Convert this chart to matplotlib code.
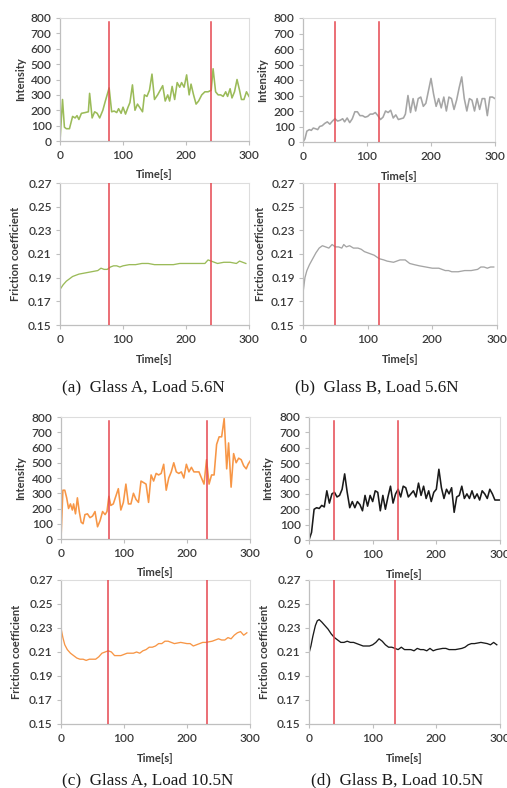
import matplotlib
matplotlib.use("Agg")
import matplotlib.pyplot as plt

# ---------------- data ----------------
# (a) Glass A, Load 5.6N
a_int_t = [0, 4, 7, 10, 15, 20, 24, 27, 30, 34, 40, 45, 47, 51, 55, 59, 63, 68, 72, 78, 82, 86, 90, 93, 97,
           100, 104, 108, 111, 115, 119, 123, 127, 131, 134, 138, 142, 146, 150, 155, 159, 163, 167, 171, 174,
           178, 182, 186, 190, 193, 197, 201, 205, 208, 212, 216, 220, 225, 230, 235, 240, 243, 247, 251, 255,
           259, 263, 266, 270, 273, 277, 281, 285, 288, 292, 296, 300]
a_int_v = [0, 270, 90, 80, 80, 160, 150, 165, 140, 180, 185, 190, 310, 150, 190, 180, 150, 200, 260, 345, 190, 195,
           185, 210, 180, 220, 175, 220, 250, 365, 200, 240, 215, 190, 300, 290, 330, 435, 270, 300, 330, 360,
           260, 300, 260, 355, 270, 380, 350, 380, 350, 430, 300, 370, 300, 240, 260, 300, 320, 320, 330, 470,
           320, 300, 300, 290, 320, 290, 340, 280, 320, 400, 330, 270, 270, 320, 290]
a_fr_t = [0, 5, 10, 15, 20, 30, 40, 50, 60, 65, 70, 75, 80, 85, 90, 95, 100, 110, 120, 130, 140, 150, 160, 170,
          180, 190, 200, 210, 220, 230, 235, 240, 250, 260, 270, 280, 285, 290, 295]
a_fr_v = [0.180, 0.184, 0.187, 0.189, 0.191, 0.193, 0.194, 0.195, 0.196, 0.198, 0.197, 0.197, 0.199, 0.200,
          0.200, 0.199, 0.200, 0.201, 0.201, 0.202, 0.202, 0.201, 0.201, 0.201, 0.201, 0.202, 0.202, 0.202,
          0.202, 0.202, 0.205, 0.204, 0.202, 0.203, 0.203, 0.202, 0.204, 0.203, 0.202]
a_marks = [78, 240]

# (b) Glass B, Load 5.6N
b_int_t = [0, 3, 6, 10, 13, 16, 20, 23, 26, 30, 34, 38, 42, 46, 50, 54, 58, 62, 65, 69, 73, 77, 81, 85, 89, 93,
           97, 101, 105, 109, 113, 117, 121, 125, 129, 133, 137, 141, 145, 149, 153, 157, 160, 164, 168, 172,
           176, 180, 184, 188, 192, 196, 200, 204, 208, 212, 216, 220, 224, 228, 232, 236, 240, 244, 248, 252,
           256, 260, 264, 268, 272, 276, 280, 284, 288, 292, 296, 300]
b_int_v = [0, 20, 70, 80, 75, 90, 85, 80, 100, 105, 120, 130, 115, 135, 150, 135, 140, 150, 130, 155, 125, 150,
           195, 195, 170, 170, 160, 165, 180, 180, 190, 170, 145, 160, 200, 190, 205, 155, 175, 145, 150, 155,
           180, 300, 190, 280, 200, 280, 290, 230, 250, 330, 410, 310, 230, 280, 220, 290, 200, 290, 280, 210,
           270, 350, 420, 280, 200, 280, 270, 200, 280, 210, 280, 280, 170, 290, 290, 280]
b_fr_t = [0, 3, 6, 10, 15, 20, 25, 30, 35, 40, 45, 50, 55, 60, 63, 67, 72, 78, 85, 90, 95, 100, 110, 118, 125,
          130, 140, 145, 150, 158, 165, 172, 180, 190, 200, 210, 220, 225, 230, 240, 250, 260, 270, 275, 280,
          285, 290, 295]
b_fr_v = [0.177, 0.190, 0.196, 0.201, 0.206, 0.211, 0.215, 0.217, 0.216, 0.215, 0.218, 0.216, 0.216, 0.215,
          0.218, 0.216, 0.217, 0.215, 0.215, 0.214, 0.212, 0.211, 0.209, 0.206, 0.205, 0.204, 0.203, 0.204,
          0.205, 0.205, 0.202, 0.201, 0.200, 0.199, 0.198, 0.198, 0.196, 0.196, 0.195, 0.195, 0.196, 0.196,
          0.197, 0.199, 0.199, 0.198, 0.199, 0.199]
b_marks = [50, 118]

# (c) Glass A, Load 10.5N
c_int_t = [0, 3, 6, 9, 12, 15, 18, 20, 23, 26, 29, 32, 35, 38, 42, 46, 50, 54, 58, 62, 66, 70, 73, 76, 79, 83,
           87, 91, 95, 99, 103, 107, 111, 115, 119, 123, 127, 131, 135, 139, 143, 147, 151, 155, 159, 163, 167,
           171, 175, 179, 183, 187, 191, 195, 199, 203, 207, 211, 215, 219, 223, 227, 231, 235, 239, 243, 247,
           251, 255, 259, 263, 266, 270, 274, 278, 282, 286, 290, 294, 297, 300]
c_int_v = [0, 320, 320, 270, 200, 230, 190, 230, 165, 270, 180, 110, 100, 160, 165, 140, 150, 180, 80, 120, 180,
           160, 180, 280, 220, 230, 280, 330, 190, 240, 360, 230, 230, 300, 260, 240, 380, 370, 360, 240, 420,
           380, 430, 420, 430, 490, 320, 400, 440, 500, 440, 430, 440, 400, 490, 440, 470, 440, 440, 440, 400,
           360, 520, 360, 420, 420, 620, 670, 670, 790, 460, 630, 340, 560, 500, 530, 520, 480, 460, 490, 510]
c_fr_t = [0, 3, 6, 10, 15, 20, 25, 30, 35, 40, 45, 50, 55, 60, 65, 70, 75, 80, 85, 90, 95, 100, 105, 110, 115,
          120, 125, 130, 135, 140, 145, 150, 155, 160, 165, 170, 175, 180, 190, 200, 205, 210, 215, 220, 225,
          230, 240, 245, 250, 255, 260, 265, 270, 275, 280, 285, 290, 295]
c_fr_v = [0.230, 0.222, 0.216, 0.212, 0.209, 0.207, 0.205, 0.204, 0.204, 0.203, 0.204, 0.204, 0.204, 0.206,
          0.209, 0.210, 0.211, 0.210, 0.207, 0.207, 0.207, 0.208, 0.209, 0.209, 0.209, 0.210, 0.209, 0.211,
          0.212, 0.214, 0.214, 0.215, 0.217, 0.217, 0.219, 0.219, 0.218, 0.217, 0.218, 0.217, 0.217, 0.215,
          0.216, 0.217, 0.218, 0.218, 0.219, 0.220, 0.221, 0.220, 0.220, 0.222, 0.221, 0.224, 0.226, 0.227,
          0.224, 0.226]
c_marks_int = [76, 232]
c_marks_fr = [75, 231]

# (d) Glass B, Load 10.5N
d_int_t = [0, 4, 8, 12, 16, 20, 24, 28, 32, 36, 40, 44, 48, 52, 56, 60, 64, 68, 72, 76, 80, 84, 88, 92, 96, 100,
           104, 108, 112, 116, 120, 124, 128, 132, 136, 140, 144, 148, 152, 156, 160, 164, 168, 172, 176, 180,
           184, 188, 192, 196, 200, 204, 208, 212, 216, 220, 224, 228, 232, 236, 240, 244, 248, 252, 256, 260,
           264, 268, 272, 276, 280, 284, 288, 292, 296, 300]
d_int_v = [0, 50, 200, 210, 205, 225, 215, 320, 240, 300, 310, 280, 290, 330, 430, 310, 210, 250, 210, 250, 230,
           190, 290, 220, 290, 250, 320, 310, 190, 290, 200, 280, 350, 240, 300, 330, 280, 350, 340, 280, 300,
           320, 280, 370, 290, 350, 270, 320, 250, 310, 330, 460, 340, 270, 330, 300, 340, 180, 280, 290, 350,
           270, 300, 270, 320, 270, 300, 260, 320, 300, 270, 330, 300, 260, 260, 260]
d_fr_t = [0, 3, 6, 10, 13, 16, 20, 25, 30, 35, 40, 45, 50, 55, 60, 65, 70, 75, 80, 85, 90, 95, 100, 105, 110,
          115, 120, 125, 130, 135, 140, 145, 150, 160, 165, 170, 175, 180, 185, 190, 195, 200, 210, 215, 220,
          230, 240, 245, 250, 255, 260, 270, 280, 285, 290, 295]
d_fr_v = [0.209, 0.215, 0.223, 0.232, 0.236, 0.237, 0.235, 0.232, 0.229, 0.225, 0.222, 0.220, 0.218, 0.218,
          0.219, 0.218, 0.218, 0.217, 0.216, 0.215, 0.215, 0.215, 0.216, 0.218, 0.221, 0.219, 0.216, 0.214,
          0.214, 0.213, 0.212, 0.214, 0.212, 0.212, 0.211, 0.213, 0.212, 0.212, 0.211, 0.213, 0.211, 0.212,
          0.213, 0.213, 0.212, 0.212, 0.213, 0.214, 0.216, 0.217, 0.217, 0.218, 0.217, 0.216, 0.218, 0.216]
d_marks_int = [40, 140]
d_marks_fr = [40, 135]

captions = ["(a)  Glass A, Load 5.6N", "(b)  Glass B, Load 5.6N",
            "(c)  Glass A, Load 10.5N", "(d)  Glass B, Load 10.5N"]

int_ticks = [0, 100, 200, 300, 400, 500, 600, 700, 800]
fr_ticks = [0.15, 0.17, 0.19, 0.21, 0.23, 0.25, 0.27]
x_ticks = [0, 100, 200, 300]

# ---------------- figure ----------------
W, H = 507, 788
fig = plt.figure(figsize=(W / 100, H / 100), dpi=100)
fig.patch.set_facecolor("white")

TICK_FONT = dict(family=["Lato", "DejaVu Sans"], size=8.6, weight="semibold")
LABEL_FONT = dict(family=["Lato", "DejaVu Sans"], size=8.0, weight="bold")
TXT = "#3a3a3a"
RED = "#E5474F"


def make_ax(left, right, top, bottom):
    return fig.add_axes([left / W, 1 - bottom / H, (right - left) / W, (bottom - top) / H])


def style(ax, yticks, ylabel, fmt, ylab_px):
    ax.set_xlim(0, 300)
    ax.set_ylim(yticks[0], yticks[-1])
    ax.set_xticks(x_ticks)
    ax.set_yticks(yticks)
    ax.set_yticklabels([fmt.format(v) for v in yticks], **TICK_FONT, color=TXT)
    ax.set_xticklabels([str(v) for v in x_ticks], **TICK_FONT, color=TXT)
    ax.tick_params(axis="both", direction="out", length=3, width=0.8, color="#BFBFBF")
    ax.tick_params(axis="x", pad=3.5)
    ax.tick_params(axis="y", pad=3.0)
    for s in ["left", "bottom"]:
        ax.spines[s].set_color("#BFBFBF")
        ax.spines[s].set_linewidth(0.9)
    for s in ["top", "right"]:
        ax.spines[s].set_color("#DDDDDD")
        ax.spines[s].set_linewidth(0.8)
    ax.set_ylabel(ylabel, **LABEL_FONT, color=TXT)
    ax.set_xlabel("Time[s]", **LABEL_FONT, color=TXT)
    bb = ax.get_position()
    wpx = bb.width * W
    hpx = bb.height * H
    ax.yaxis.set_label_coords(-ylab_px / wpx, 0.5)
    ax.xaxis.set_label_coords(0.5, -34 / hpx)
    ax.xaxis.label.set_va("center")
    ax.yaxis.label.set_va("center")


panels = [
    dict(ri=(60, 249, 18, 141), rf=(60, 249, 183, 325), it=a_int_t, iv=a_int_v, ft=a_fr_t, fv=a_fr_v,
         mi=a_marks, mf=a_marks, c="#9BBB59", ylp_i=39, ylp_f=44, cap=(143, 387), cap_txt=captions[0]),
    dict(ri=(303, 495, 18, 142), rf=(303, 497, 183, 325), it=b_int_t, iv=b_int_v, ft=b_fr_t, fv=b_fr_v,
         mi=b_marks, mf=b_marks, c="#A5A5A5", ylp_i=40, ylp_f=43, cap=(377, 387), cap_txt=captions[1]),
    dict(ri=(61, 250, 417, 539), rf=(61, 250, 580, 724), it=c_int_t, iv=c_int_v, ft=c_fr_t, fv=c_fr_v,
         mi=c_marks_int, mf=c_marks_fr, c="#F79646", ylp_i=40, ylp_f=44, cap=(148, 780), cap_txt=captions[2]),
    dict(ri=(309, 500, 417, 540), rf=(309, 500, 580, 724), it=d_int_t, iv=d_int_v, ft=d_fr_t, fv=d_fr_v,
         mi=d_marks_int, mf=d_marks_fr, c="#1a1a1a", ylp_i=41, ylp_f=44, cap=(397, 780), cap_txt=captions[3]),
]

for p in panels:
    ai = make_ax(*p["ri"])
    ai.plot(p["it"], p["iv"], color=p["c"], lw=1.15, solid_joinstyle="round", zorder=2)
    for m in p["mi"]:
        ai.axvline(m, ymin=0, ymax=0.965, color=RED, lw=1.1, zorder=3)
    style(ai, int_ticks, "Intensity", "{:d}", p["ylp_i"])

    af = make_ax(*p["rf"])
    af.plot(p["ft"], p["fv"], color=p["c"], lw=0.95, solid_joinstyle="round", zorder=2)
    for m in p["mf"]:
        af.axvline(m, ymin=0, ymax=1, color=RED, lw=1.1, zorder=3)
    style(af, fr_ticks, "Friction coefficient", "{:.2f}", p["ylp_f"])

    fig.text(p["cap"][0] / W, 1 - p["cap"][1] / H, p["cap_txt"], ha="center", va="center",
             family=["Liberation Serif", "DejaVu Serif"], size=12.3, color="#1a1a1a")

fig.savefig("out.png", dpi=100, facecolor="white")
